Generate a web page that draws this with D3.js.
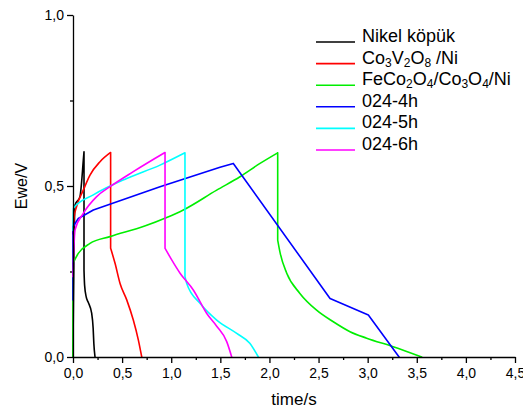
<!DOCTYPE html>
<html>
<head>
<meta charset="utf-8">
<script src="https://cdn.jsdelivr.net/npm/d3@7"></script>
<style>
  body { margin: 0; background: #fff; }
  svg { font-family: Arial, 'Liberation Sans', sans-serif; }
  .axis path, .axis line { stroke: #000; stroke-width: 1.3; }
  .axis text { font-size: 14px; fill: #000; }
</style>
</head>
<body>
<div id="chart"></div>
<script>
// series: [time/s, Ewe/V]
const nikel = [[0, 0], [0, 0.03], [0.02, 0.444], [0.071, 0.469], [0.088, 0.513], [0.105, 0.576], [0.112, 0.6],
  [0.112, 0.254], [0.118, 0.21], [0.135, 0.175], [0.155, 0.16], [0.19, 0.128], [0.205, 0.085], [0.212, 0.04], [0.224, 0]]
const co3v2o8 = [[0, 0.36], [0.012, 0.41], [0.037, 0.44], [0.105, 0.488], [0.173, 0.532], [0.275, 0.571], [0.383, 0.598],
  [0.383, 0.318], [0.428, 0.274], [0.479, 0.215], [0.547, 0.167], [0.614, 0.108], [0.665, 0.05], [0.70, 0]]
const feco = [[0, 0], [0, 0.274], [0.054, 0.303], [0.173, 0.332], [0.377, 0.352], [0.73, 0.383], [0.954, 0.408],
  [1.123, 0.43], [1.463, 0.488], [1.70, 0.527], [1.904, 0.566], [2.084, 0.597],
  [2.084, 0.342], [2.11, 0.303], [2.176, 0.245], [2.31, 0.186], [2.48, 0.137], [2.65, 0.103], [2.82, 0.074],
  [2.99, 0.055], [3.26, 0.03], [3.55, 0]]
const h4 = [[0, 0.167], [0, 0.381], [0.054, 0.405], [0.207, 0.43], [0.886, 0.498], [1.497, 0.555], [1.632, 0.566],
  [2.617, 0.171], [3.007, 0.123], [3.32, 0]]
const h5 = [[0, 0.37], [0.005, 0.435], [0.207, 0.474], [0.547, 0.522], [0.886, 0.561], [1.14, 0.597],
  [1.14, 0.235], [1.158, 0.215], [1.293, 0.157], [1.463, 0.108], [1.667, 0.069], [1.80, 0.04], [1.887, 0]]
const h6 = [[0, 0.235], [0.02, 0.371], [0.105, 0.42], [0.241, 0.469], [0.377, 0.498], [0.614, 0.542], [0.937, 0.598],
  [0.937, 0.318], [1.005, 0.284], [1.09, 0.245], [1.225, 0.196], [1.36, 0.128], [1.463, 0.09], [1.565, 0.045], [1.616, 0]]

const seriesNames = [
  [['Nikel köpük']],
  [['Co'], ['3', 1], ['V'], ['2', 1], ['O'], ['8', 1], [' /Ni']],
  [['FeCo'], ['2', 1], ['O'], ['4', 1], ['/Co'], ['3', 1], ['O'], ['4', 1], ['/Ni']],
  [['024-4h']],
  [['024-5h']],
  [['024-6h']]
]
const seriesData = [nikel, co3v2o8, feco, h4, h5, h6]
const seriesColors = ['#000000', '#ff0000', '#00ee00', '#0000ff', '#00ffff', '#ff00ff']
const smooth = [true, true, true, false, true, true]

const xTicks = [0, 0.5, 1, 1.5, 2, 2.5, 3, 3.5, 4, 4.5]
const yTicks = [0, 0.5, 1]

const width = 523
const height = 415
const margin = {top: 15, right: 8, bottom: 58, left: 73}

const x = d3.scaleLinear().domain([0, 4.5]).range([margin.left, width - margin.right])
const y = d3.scaleLinear().domain([0, 1]).range([height - margin.bottom, margin.top])
const fmt = d => d3.format('.1f')(d).replace('.', ',')

const svg = d3.select('#chart').append('svg')
    .attr('width', width)
    .attr('height', height)

// minor ticks
svg.append('g')
    .attr('class', 'axis')
    .attr('transform', 'translate(0,' + y(0) + ')')
    .call(d3.axisBottom(x).tickValues(d3.range(0.25, 4.5, 0.5)).tickSize(3).tickFormat(''))
    .select('.domain').remove()
svg.append('g')
    .attr('class', 'axis')
    .attr('transform', 'translate(' + x(0) + ',0)')
    .call(d3.axisLeft(y).tickValues([0.25, 0.75]).tickSize(3).tickFormat(''))
    .select('.domain').remove()

// split a series into runs where time strictly increases (vertical jumps become their own run)
function runs (pts) {
  const out = []
  let cur = [pts[0]]
  for (let i = 1; i < pts.length; i++) {
    const prev = pts[i - 1]
    if (pts[i][0] > prev[0]) {
      cur.push(pts[i])
    } else {
      if (cur.length > 1) out.push(cur)
      out.push([prev, pts[i]])
      cur = [pts[i]]
    }
  }
  if (cur.length > 1) out.push(cur)
  return out
}

const lineSmooth = d3.line().x(d => x(d[0])).y(d => y(d[1])).curve(d3.curveMonotoneX)
const lineStraight = d3.line().x(d => x(d[0])).y(d => y(d[1]))

svg.append('g').selectAll('path')
    .data(seriesData)
  .join('path')
    .attr('d', (d, i) => runs(d).map(r => (smooth[i] ? lineSmooth : lineStraight)(r)).join(''))
    .attr('fill', 'none')
    .attr('stroke', (d, i) => seriesColors[i])
    .attr('stroke-width', 1.6)
    .attr('stroke-linejoin', 'round')
    .attr('stroke-linecap', 'round')

// major axes
svg.append('g')
    .attr('class', 'axis')
    .attr('transform', 'translate(0,' + y(0) + ')')
    .call(d3.axisBottom(x).tickValues(xTicks).tickSize(6).tickSizeOuter(0).tickPadding(5).tickFormat(fmt))
svg.append('g')
    .attr('class', 'axis')
    .attr('transform', 'translate(' + x(0) + ',0)')
    .call(d3.axisLeft(y).tickValues(yTicks).tickSize(6).tickSizeOuter(0).tickPadding(3).tickFormat(fmt))

// axis titles
svg.append('text')
    .attr('x', (x(0) + x(4.5)) / 2)
    .attr('y', 405)
    .attr('text-anchor', 'middle')
    .style('font-size', '17px')
    .text('time/s')
svg.append('text')
    .attr('transform', 'translate(27,' + y(0.5) + ')rotate(-90)')
    .attr('text-anchor', 'middle')
    .style('font-size', '16px')
    .text('Ewe/V')

// legend
const legend = svg.append('g').selectAll('g')
    .data(seriesNames)
  .join('g')
    .attr('transform', (d, i) => 'translate(316,' + (42 + i * 21.6) + ')')
legend.append('line')
    .attr('x1', 0).attr('x2', 39)
    .attr('stroke', (d, i) => seriesColors[i])
    .attr('stroke-width', 1.6)
const lt = legend.append('text')
    .attr('x', 46)
    .attr('dy', '0.35em')
    .style('font-size', '18px')
lt.selectAll('tspan')
    .data(d => d)
  .join('tspan')
    .style('font-size', d => d[1] ? '12px' : null)
    .attr('dy', (d, i, n) => {
      const prev = i > 0 ? d3.select(n[i - 1]).datum()[1] : 0
      const cur = d[1] || 0
      return cur === prev ? 0 : (cur ? 3 : -3)
    })
    .text(d => d[0])
</script>
</body>
</html>
